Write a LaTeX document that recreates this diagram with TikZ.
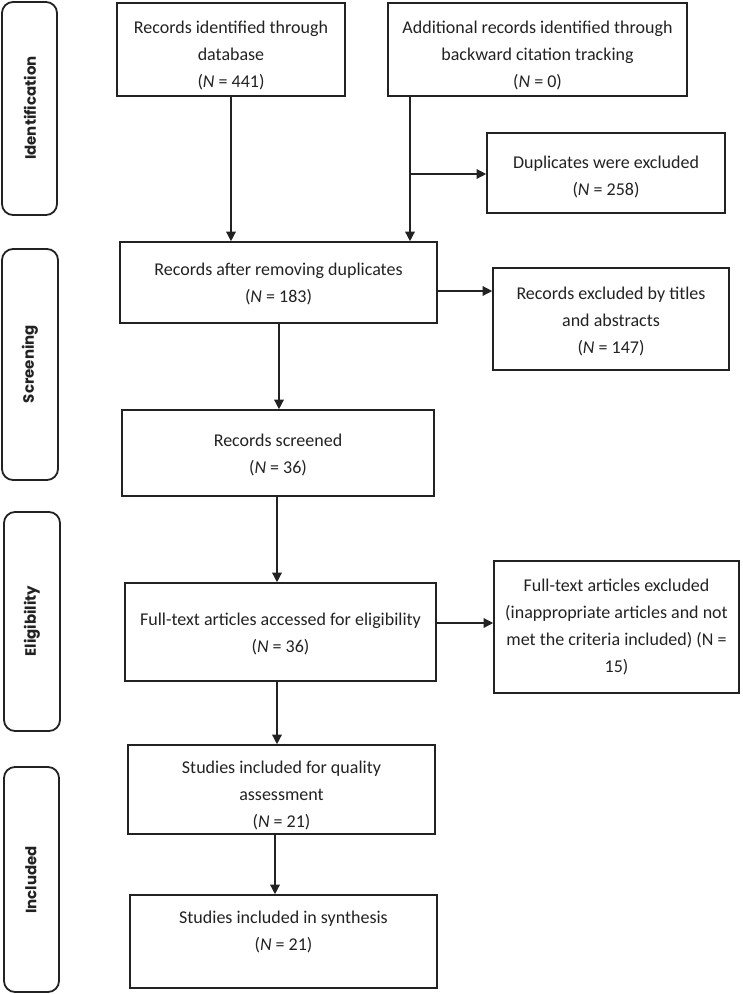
\documentclass[tikz,border=0pt]{standalone}
\usepackage{fontspec}
\setmainfont{Carlito}
\newfontfamily\labfont{Poppins}
\usetikzlibrary{arrows.meta}
\definecolor{ink}{HTML}{222222}
\newcommand\padtop[1]{\rule{0pt}{\dimexpr 13pt+#1\relax}}
\tikzset{
  box/.style={draw=ink, line width=1.6pt, inner sep=0pt, align=center,
    font=\fontsize{18}{27}\selectfont, text=ink},
  stage/.style={draw=ink, line width=1.8pt, rounded corners=11pt},
  stagetext/.style={font=\labfont\bfseries\fontsize{15}{18}\selectfont, rotate=90, text=ink},
  arr/.style={draw=ink, line width=1.4pt, -{Triangle[length=9.5pt,width=9.5pt]}},
  plain/.style={draw=ink, line width=1.4pt}
}
\begin{document}
\begin{tikzpicture}[x=1pt,y=-1pt]
\useasboundingbox (0,0) rectangle (743,994);
% stage labels
\draw[stage] (2,2) rectangle (57,215);
\node[stagetext] (lid) at (30,108) {Identification};
\draw[stage] (2,249) rectangle (58,480);
\node[stagetext] (lsc) at (30,364) {Screening};
\draw[stage] (4,512) rectangle (60,731);
\node[stagetext] (lel) at (32,621) {Eligibility};
\draw[stage] (4,767) rectangle (59,992);
\node[stagetext] (lin) at (31,880) {Included};
% boxes
\node[box, minimum width=228, minimum height=93] (A) at (231,49.5)
  {\padtop{11pt}Records identified through\\database\\(\textit{N} = 441)};
\node[box, minimum width=299, minimum height=93] (B) at (537.5,49.5)
  {\padtop{11pt}Additional records identified through\\backward citation tracking\\(\textit{N} = 0)};
\node[box, minimum width=238, minimum height=80] (D) at (606,173)
  {\padtop{8pt}Duplicates were excluded\\(\textit{N} = 258)};
\node[box, minimum width=317, minimum height=81] (C) at (278.5,282.5)
  {\padtop{3pt}Records after removing duplicates\\(\textit{N} = 183)};
\node[box, minimum width=236, minimum height=102] (E) at (611,319)
  {\padtop{4pt}Records excluded by titles\\and abstracts\\(\textit{N} = 147)};
\node[box, minimum width=312, minimum height=86] (S) at (278,453)
  {\padtop{3pt}Records screened\\(\textit{N} = 36)};
\node[box, minimum width=311, minimum height=98] (F) at (280.5,632)
  {\padtop{3pt}Full-text articles accessed for eligibility\\(\textit{N} = 36)};
\node[box, minimum width=245, minimum height=132] (G) at (616.5,627)
  {Full-text articles excluded\\(inappropriate articles and not\\met the criteria included) (N =\\15)};
\node[box, minimum width=307, minimum height=89] (Q) at (281.5,789.5)
  {\padtop{12pt}Studies included for quality\\assessment\\(\textit{N} = 21)};
\node[box, minimum width=307, minimum height=93] (Y) at (283.5,941.5)
  {\padtop{5pt}Studies included in synthesis\\(\textit{N} = 21)\\\mbox{}};
% connectors
\coordinate (bx) at (410,0);
\coordinate (j1) at (410,174);
\coordinate (j2) at (0,291);
\coordinate (j3) at (0,623);
\draw[arr] (A.south) -- (A.south |- C.north);
\draw[arr] (B.south -| bx) -- (C.north -| bx);
\draw[arr] (j1) -- (j1 -| D.west);
\draw[arr] (C.east |- j2) -- (E.west |- j2);
\draw[arr] ([xshift=0.5pt]C.south) -- ([xshift=0.5pt]C.south |- S.north);
\draw[arr] ([xshift=-1pt]S.south) -- ([xshift=-1pt]S.south |- F.north);
\draw[arr] (F.east |- j3) -- (G.west |- j3);
\draw[arr] ([xshift=-3.5pt]F.south) -- ([xshift=-3.5pt]F.south |- Q.north);
\draw[arr] ([xshift=-6.5pt]Q.south) -- ([xshift=-6.5pt]Q.south |- Y.north);
\end{tikzpicture}
\end{document}
